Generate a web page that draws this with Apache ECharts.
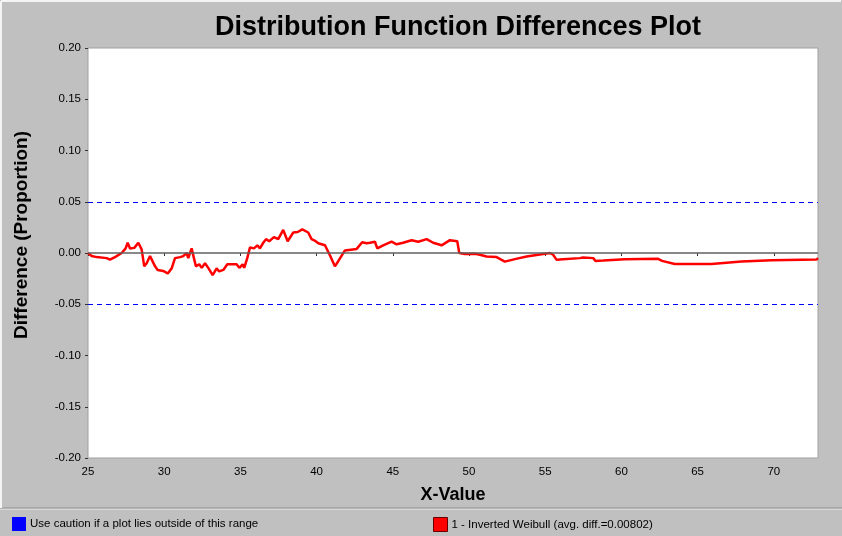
<!DOCTYPE html>
<html>
<head>
<meta charset="utf-8">
<script src="https://cdn.jsdelivr.net/npm/echarts@6/dist/echarts.min.js"></script>
<style>
  html, body { margin: 0; padding: 0; background: #c0c0c0; }
  #chart { width: 842px; height: 536px; }
</style>
</head>
<body>
<div id="chart"></div>
<script>
// x positions and difference values
const xValues = [
  25.0, 25.24, 25.57, 26.23, 26.44, 26.77, 27.21, 27.47, 27.60, 27.76, 28.04, 28.30, 28.41, 28.52,
  28.69, 28.85, 29.07, 29.18, 29.40, 29.57, 29.94, 30.23, 30.49, 30.71, 31.04, 31.25, 31.47, 31.58,
  31.80, 31.95, 32.08, 32.30, 32.46, 32.68, 32.89, 33.18, 33.44, 33.61, 33.88, 34.14, 34.75, 34.93,
  35.15, 35.25, 35.45, 35.63, 35.89, 36.11, 36.28, 36.50, 36.68, 36.89, 37.20, 37.48, 37.53, 37.81,
  38.10, 38.47, 38.76, 39.06, 39.45, 39.67, 39.94, 40.11, 40.55, 40.88, 41.20, 41.42, 41.86, 42.63,
  42.99, 43.28, 43.50, 43.83, 43.98, 44.37, 44.92, 45.25, 45.68, 46.23, 46.67, 47.22, 47.65, 48.20,
  48.75, 49.23, 49.36, 49.73, 50.39, 50.72, 51.15, 51.81, 52.14, 52.35, 53.01, 53.78, 54.54, 55.31,
  55.52, 55.75, 56.18, 57.27, 57.49, 58.15, 58.30, 58.80, 60.23, 62.41, 62.67, 63.50, 65.91, 67.88,
  69.85, 72.80, 72.90
];
const diffValues = [
  0.000, -0.003, -0.004, -0.005, -0.0065, -0.004, 0.000, 0.0045, 0.010, 0.0045, 0.005, 0.010, 0.011, 0.0035,
  -0.013, -0.010, -0.003, -0.002, -0.013, -0.0165, -0.0175, -0.020, -0.015, -0.005, -0.004, -0.003, 0.000, -0.005,
  0.0045, -0.005, -0.013, -0.011, -0.0145, -0.010, -0.0145, -0.0215, -0.015, -0.018, -0.0165, -0.011, -0.011, -0.0145,
  -0.011, -0.0145, -0.005, 0.0055, 0.0045, 0.0075, 0.0045, 0.010, 0.0135, 0.0115, 0.0155, 0.0135, 0.014, 0.0225,
  0.0115, 0.020, 0.0205, 0.023, 0.020, 0.0135, 0.0115, 0.0095, 0.0075, -0.0025, -0.013, -0.008, 0.0025, 0.004,
  0.0105, 0.0095, 0.010, 0.011, 0.0045, 0.0075, 0.011, 0.0085, 0.010, 0.0125, 0.011, 0.0135, 0.010, 0.0075,
  0.0125, 0.0115, 0.000, -0.001, -0.0007, -0.0017, -0.0034, -0.004, -0.0067, -0.0084, -0.006, -0.0034, -0.0017, 0.000,
  -0.0017, -0.0067, -0.006, -0.005, -0.0044, -0.005, -0.0077, -0.0074, -0.006, -0.0057, -0.0077, -0.0107, -0.0107, -0.0084,
  -0.007, -0.0064, -0.005
];
const cautionLimits = [0.05, -0.05];
const yTicks = [-0.2, 0.2, 0.05];   // min, max, step
const xRange = [25, 72.9, 5];

const chart = echarts.init(document.getElementById('chart'));

const option = {
  backgroundColor: '#c0c0c0',
  animation: false,
  textStyle: { fontFamily: 'Liberation Sans, Arial, sans-serif' },
  title: {
    text: 'Distribution Function Differences Plot',
    left: 453,
    textAlign: 'center',
    top: 9,
    textStyle: { fontSize: 27, fontWeight: 'bold', color: '#000' }
  },
  grid: {
    left: 88, top: 48, right: 24, bottom: 78,
    show: true, backgroundColor: '#fff', borderColor: '#a0a0a0', borderWidth: 1
  },
  legend: [
    {
      left: 12, top: 517, padding: 0, itemWidth: 14, itemHeight: 14,
      icon: 'rect',
      data: [{ name: 'Use caution if a plot lies outside of this range', itemStyle: { color: '#0000ff' } }],
      textStyle: { fontSize: 11.5, color: '#000', padding: [0, 0, 0, -1] },
      selectedMode: false
    },
    {
      left: 433, top: 517, padding: 0, itemWidth: 14, itemHeight: 14,
      icon: 'rect',
      data: [{ name: '1 - Inverted Weibull (avg. diff.=0.00802)', itemStyle: { color: '#ff0000', borderColor: '#600', borderWidth: 1 } }],
      textStyle: { fontSize: 11.5, color: '#000', padding: [0, 0, 0, -1] },
      selectedMode: false
    }
  ],
  xAxis: {
    type: 'value',
    min: xRange[0], max: xRange[1], interval: xRange[2],
    name: 'X-Value',
    nameLocation: 'middle',
    nameGap: 28,
    nameTextStyle: { fontSize: 18, fontWeight: 'bold', color: '#000' },
    axisLine: { show: false },
    axisTick: { show: true, length: 3, lineStyle: { color: '#333' } },
    axisLabel: { color: '#000', fontSize: 11.5, margin: 8, showMaxLabel: false },
    splitLine: { show: false }
  },
  yAxis: {
    type: 'value',
    min: yTicks[0], max: yTicks[1], interval: yTicks[2],
    name: 'Difference (Proportion)',
    nameLocation: 'middle',
    nameGap: 57,
    nameTextStyle: { fontSize: 19, fontWeight: 'bold', color: '#000', padding: [0, 0, 0, 36] },
    axisLine: { show: false },
    axisTick: { show: true, length: 3, lineStyle: { color: '#333' } },
    axisLabel: { color: '#000', fontSize: 11.5, margin: 7, formatter: v => v.toFixed(2) },
    splitLine: { show: false }
  },
  series: [
    {
      name: 'Use caution if a plot lies outside of this range',
      type: 'line',
      data: [],
      itemStyle: { color: '#0000ff' },
      markLine: {
        silent: true, symbol: 'none', label: { show: false },
        lineStyle: { color: '#0000ff', type: [5, 4], width: 1 },
        data: cautionLimits.map(v => ({ yAxis: v }))
      }
    },
    {
      name: '1 - Inverted Weibull (avg. diff.=0.00802)',
      type: 'line',
      showSymbol: false,
      itemStyle: { color: '#ff0000' },
      lineStyle: { color: '#ff0000', width: 2.5 },
      data: xValues.map((x, i) => [x, diffValues[i]]),
      markLine: {
        silent: true, symbol: 'none', label: { show: false },
        lineStyle: { color: '#606060', type: 'solid', width: 1.5 },
        data: [{ yAxis: 0 }]
      },
      z: 3
    }
  ],
  graphic: [
    { type: 'line', shape: { x1: 0, y1: 509, x2: 842, y2: 509 }, style: { stroke: '#f0f0f0', lineWidth: 1 } },
    { type: 'line', shape: { x1: 0, y1: 508, x2: 842, y2: 508 }, style: { stroke: '#909090', lineWidth: 1 } },
    { type: 'line', shape: { x1: 1, y1: 1, x2: 841, y2: 1 }, style: { stroke: '#f4f4f4', lineWidth: 2 } },
    { type: 'line', shape: { x1: 1, y1: 1, x2: 1, y2: 508 }, style: { stroke: '#f4f4f4', lineWidth: 2 } }
  ]
};

chart.setOption(option);
</script>
</body>
</html>
